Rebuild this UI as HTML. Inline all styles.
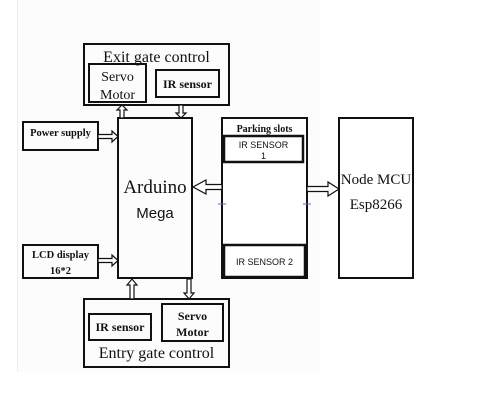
<!DOCTYPE html>
<html><head><meta charset="utf-8"><style>
html,body{margin:0;padding:0;background:#fff;}
svg{display:block;}
.s{font-family:"Liberation Serif",serif;fill:#111;}
.a{font-family:"Liberation Sans",sans-serif;fill:#111;}
</style></head><body>
<svg width="478" height="416" viewBox="0 0 478 416" xmlns="http://www.w3.org/2000/svg">
<rect x="17" y="0" width="303" height="372" fill="#fcfcfc"/>
<line x1="17.5" y1="0" x2="17.5" y2="372" stroke="#eee" stroke-width="1"/>
<g fill="none" stroke="#111" stroke-width="2">
<rect x="84" y="44" width="145" height="61"/>
<rect x="89" y="64" width="57" height="38"/>
<rect x="156" y="70" width="63" height="27"/>
<rect x="118" y="118" width="74" height="160"/>
<rect x="23" y="122" width="75" height="28"/>
<rect x="23" y="245" width="75" height="33"/>
<rect x="222" y="118" width="85" height="160" fill="#fff"/>
<rect x="224" y="136" width="79" height="26" stroke-width="2.5"/>
<rect x="224" y="245" width="81" height="32" stroke-width="2.5"/>
<rect x="339" y="118" width="74" height="160"/>
<rect x="84" y="299" width="145" height="68"/>
<rect x="89" y="314" width="62" height="26"/>
<rect x="162" y="304" width="61" height="37"/>
</g>
<g fill="#fff" stroke="#111" stroke-width="1.2">
<path d="M98,134.5 H112 V131 L118,136.5 L112,142 V138.5 H98 Z"/>
<path d="M98,258.5 H112 V255 L118,260.5 L112,266 V262.5 H98 Z"/>
<path d="M120,118 V110 H117 L122,105 L127,110 H124 V118 Z"/>
<path d="M179,105 V113 H176 L181,118 L186,113 H183 V105 Z"/>
<path d="M130,299 V285 H127 L132,279 L137,285 H134 V299 Z"/>
<path d="M187,279 V293 H184 L189,299 L194,293 H191 V279 Z"/>
<path d="M222,184.5 H206 V180 L193,187 L206,194 V189.5 H222 Z"/>
<path d="M307,186.5 H328 V182 L339,189 L328,196 V191.5 H307 Z"/>
</g>
<g stroke="#5b6fb0" stroke-width="1">
<line x1="218" y1="204" x2="226" y2="204"/>
<line x1="303" y1="204" x2="311" y2="204"/>
</g>
<text class="s" x="156.5" y="62" font-size="16" text-anchor="middle">Exit gate control</text>
<text class="s" x="117.5" y="81" font-size="14" text-anchor="middle">Servo</text>
<text class="s" x="117.5" y="99" font-size="14" text-anchor="middle">Motor</text>
<text class="s" x="187.5" y="88" font-size="12" font-weight="bold" text-anchor="middle">IR sensor</text>
<text class="s" x="60.5" y="136" font-size="10.5" font-weight="bold" text-anchor="middle">Power supply</text>
<text class="s" x="60.5" y="258" font-size="10.5" font-weight="bold" text-anchor="middle">LCD display</text>
<text class="s" x="60.5" y="274" font-size="10.5" font-weight="bold" text-anchor="middle">16*2</text>
<text class="s" x="155" y="193" font-size="19" text-anchor="middle">Arduino</text>
<text class="a" x="155" y="218" font-size="15" text-anchor="middle">Mega</text>
<text class="s" x="264.5" y="132" font-size="10" font-weight="bold" text-anchor="middle">Parking slots</text>
<text class="a" x="263.5" y="148" font-size="9" text-anchor="middle">IR SENSOR</text>
<text class="a" x="263.5" y="159" font-size="9" text-anchor="middle">1</text>
<text class="a" x="264.5" y="265" font-size="9" text-anchor="middle">IR SENSOR 2</text>
<text class="s" x="376" y="184" font-size="15" text-anchor="middle">Node MCU</text>
<text class="s" x="376" y="209" font-size="15" text-anchor="middle">Esp8266</text>
<text class="s" x="120" y="331" font-size="12" font-weight="bold" text-anchor="middle">IR sensor</text>
<text class="s" x="192.5" y="320" font-size="12" font-weight="bold" text-anchor="middle">Servo</text>
<text class="s" x="192.5" y="336" font-size="12" font-weight="bold" text-anchor="middle">Motor</text>
<text class="s" x="156.5" y="358" font-size="16" text-anchor="middle">Entry gate control</text>
</svg>
</body></html>
